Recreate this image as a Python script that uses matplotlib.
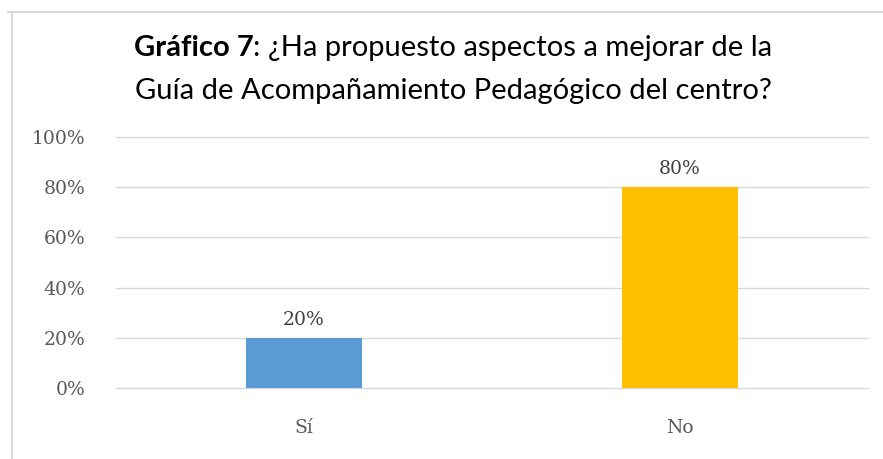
import matplotlib.pyplot as plt
from matplotlib.ticker import PercentFormatter
import matplotlib.lines as mlines

categories = ['Sí', 'No']
values = [20, 80]
colors = ['#5B9BD5', '#FFC000']
yticks = [0, 20, 40, 60, 80, 100]

fig = plt.figure(figsize=(8.83, 4.59), dpi=100)
ax = fig.add_axes([116/883, 1 - 388/459, (868-116)/883, (388-137)/459])

bars = ax.bar(range(len(categories)), values, width=0.31, color=colors, zorder=3)
for b, v in zip(bars, values):
    ax.text(b.get_x() + b.get_width()/2, v + 3.5, f'{v}%', ha='center', va='bottom',
            fontsize=13.5, color='#404040', family='DejaVu Serif')

ax.set_xlim(-0.5, 1.5)
ax.set_ylim(0, 100)
ax.set_yticks(yticks)
ax.yaxis.set_major_formatter(PercentFormatter(decimals=0))
ax.set_xticks(range(len(categories)))
ax.set_xticklabels(categories)
ax.grid(axis='y', color='#D9D9D9', linewidth=1, zorder=0)
for gl in ax.get_ygridlines():
    gl.set_clip_on(False)
ax.tick_params(length=0, labelcolor='#595959', labelsize=13.5)
ax.tick_params(axis='y', pad=22)
ax.tick_params(axis='x', pad=22)
for lbl in ax.get_xticklabels() + ax.get_yticklabels():
    lbl.set_family('DejaVu Serif')
for s in ax.spines.values():
    s.set_visible(False)

# title: bold prefix + regular rest, centred as one line
title_size = 21
cx = 453
t1 = fig.text(0, 1 - 48/459, 'Gráfico 7', ha='left', va='center', fontsize=title_size,
              fontweight='bold', family='Lato', color='#000000')
t2 = fig.text(0, 1 - 48/459, ': ¿Ha propuesto aspectos a mejorar de la', ha='left', va='center',
              fontsize=title_size, family='Lato', color='#000000')
fig.canvas.draw()
w1 = t1.get_window_extent().width
w2 = t2.get_window_extent().width
x0 = cx - (w1 + w2) / 2
t1.set_x(x0 / 883)
t2.set_x((x0 + w1) / 883)
fig.text(cx/883, 1 - 91/459, 'Guía de Acompañamiento Pedagógico del centro?', ha='center', va='center',
         fontsize=title_size, family='Lato', color='#000000')

# chart frame (top and left edges)
fig.add_artist(mlines.Line2D([8/883, 1], [1 - 12/459, 1 - 12/459], color='#D9D9D9', linewidth=1.5))
fig.add_artist(mlines.Line2D([12/883, 12/883], [0, 1 - 12/459], color='#D9D9D9', linewidth=1.5))

fig.savefig('out.png', dpi=100)
